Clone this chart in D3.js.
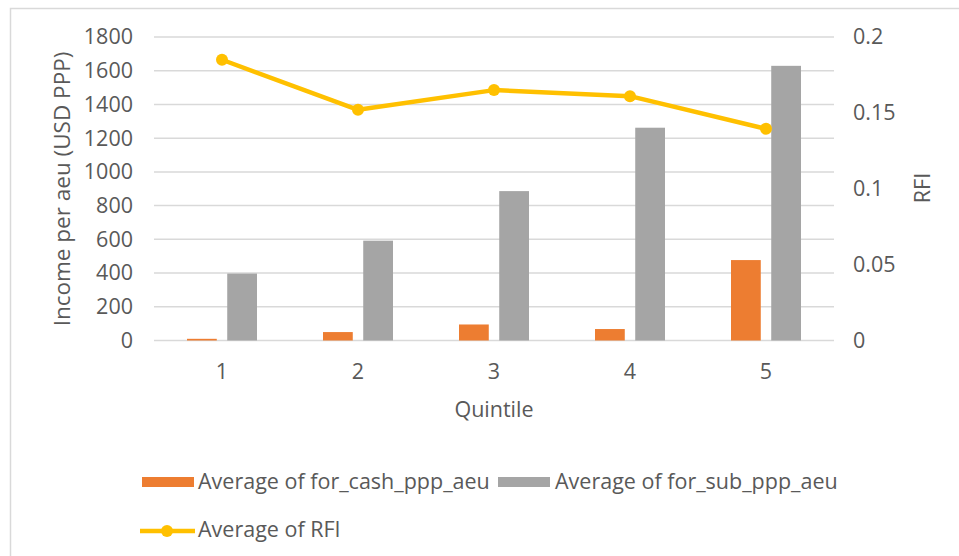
<!DOCTYPE html>
<html>
<head>
<meta charset="utf-8">
<script src="https://cdn.jsdelivr.net/npm/d3@7"></script>
<style>
  html, body { margin: 0; padding: 0; background: #fff; }
  svg { display: block; }
  text { font-family: "Open Sans", Lato, sans-serif; fill: #595959; }
</style>
</head>
<body>
<svg id="chart" width="959" height="556"></svg>
<script>
// Quintile categories and series
const quintiles = ["1", "2", "3", "4", "5"];
const cashValues = [10, 50, 95, 68, 477];      // Average of for_cash_ppp_aeu
const subValues = [397, 592, 886, 1262, 1629]; // Average of for_sub_ppp_aeu
const rfiValues = [0.185, 0.152, 0.165, 0.161, 0.1395]; // Average of RFI

const leftTicks = [0, 200, 400, 600, 800, 1000, 1200, 1400, 1600, 1800];
const rightTicks = [0, 0.05, 0.1, 0.15, 0.2];

const seriesNames = ["Average of for_cash_ppp_aeu", "Average of for_sub_ppp_aeu"];
const seriesColors = ["#ED7D31", "#A5A5A5"];
const lineColor = "#FFC000";

const svg = d3.select("#chart");
const fontSize = "21.5px";

// outer frame
svg.append("rect")
  .attr("x", 10.5).attr("y", 8.5)
  .attr("width", 980).attr("height", 600)
  .attr("fill", "none").attr("stroke", "#d9d9d9").attr("stroke-width", 1.5);

const plot = { left: 154, right: 834, top: 37, bottom: 340.5 };

const x = d3.scaleBand().domain(quintiles).range([plot.left, plot.right]).padding(0);
const yLeft = d3.scaleLinear().domain([0, 1800]).range([plot.bottom, plot.top]);
const yRight = d3.scaleLinear().domain([0, 0.2]).range([plot.bottom, plot.top]);
const xInner = d3.scaleBand().domain([0, 1]).range([-35, 35]).paddingInner(0.26);

// gridlines
svg.append("g").selectAll("line")
  .data(leftTicks)
  .join("line")
  .attr("x1", plot.left).attr("x2", plot.right)
  .attr("y1", d => yLeft(d)).attr("y2", d => yLeft(d))
  .attr("stroke", "#d9d9d9").attr("stroke-width", 1.5);

// left axis labels
const leftAxis = d3.axisLeft(yLeft).tickValues(leftTicks).tickSize(0).tickPadding(21).tickFormat(d3.format("d"));
const gL = svg.append("g").attr("transform", `translate(${plot.left},0)`).call(leftAxis);
gL.select(".domain").remove();
gL.selectAll("text").style("font-size", fontSize).attr("fill", "#595959");

// right axis labels
const rightAxis = d3.axisRight(yRight).tickValues(rightTicks).tickSize(0).tickPadding(19)
  .tickFormat(d => d === 0 ? "0" : String(+d.toFixed(2)));
const gR = svg.append("g").attr("transform", `translate(${plot.right},0)`).call(rightAxis);
gR.select(".domain").remove();
gR.selectAll("text").style("font-size", fontSize).attr("fill", "#595959");

// x axis labels
const bottomAxis = d3.axisBottom(x).tickSize(0).tickPadding(23);
const gB = svg.append("g").attr("transform", `translate(0,${plot.bottom})`).call(bottomAxis);
gB.select(".domain").remove();
gB.selectAll("text").style("font-size", fontSize).attr("fill", "#595959");

svg.selectAll("g").attr("font-family", null);

// bars
const barData = quintiles.flatMap((q, i) => [
  { q, s: 0, v: cashValues[i] },
  { q, s: 1, v: subValues[i] }
]);
svg.append("g").selectAll("rect")
  .data(barData)
  .join("rect")
  .attr("x", d => x(d.q) + x.bandwidth() / 2 + xInner(d.s))
  .attr("width", xInner.bandwidth())
  .attr("y", d => yLeft(d.v))
  .attr("height", d => yLeft(0) - yLeft(d.v))
  .attr("fill", d => seriesColors[d.s]);

// RFI line
const linePts = quintiles.map((q, i) => [x(q) + x.bandwidth() / 2, yRight(rfiValues[i])]);
svg.append("path")
  .attr("d", d3.line()(linePts))
  .attr("fill", "none").attr("stroke", lineColor).attr("stroke-width", 4.5)
  .attr("stroke-linejoin", "round");
svg.append("g").selectAll("circle")
  .data(linePts)
  .join("circle")
  .attr("cx", d => d[0]).attr("cy", d => d[1]).attr("r", 6)
  .attr("fill", lineColor);

// axis titles
svg.append("text")
  .attr("transform", "translate(70,189) rotate(-90)")
  .attr("text-anchor", "middle")
  .style("font-size", "22.5px")
  .text("Income per aeu (USD PPP)");
svg.append("text")
  .attr("transform", "translate(930,188) rotate(-90)")
  .attr("text-anchor", "middle")
  .style("font-size", fontSize)
  .text("RFI");
svg.append("text")
  .attr("x", 494).attr("y", 417)
  .attr("text-anchor", "middle")
  .style("font-size", fontSize)
  .text("Quintile");

// legend
const legend = svg.append("g");
const barLegend = [
  { name: seriesNames[0], color: seriesColors[0], x: 142, tx: 198 },
  { name: seriesNames[1], color: seriesColors[1], x: 498, tx: 555 }
];
legend.selectAll("rect")
  .data(barLegend)
  .join("rect")
  .attr("x", d => d.x).attr("y", 477).attr("width", 52).attr("height", 10)
  .attr("fill", d => d.color);
legend.selectAll("text.bar")
  .data(barLegend)
  .join("text")
  .attr("class", "bar")
  .attr("x", d => d.tx).attr("y", 489)
  .style("font-size", fontSize)
  .text(d => d.name);
legend.append("line")
  .attr("x1", 140).attr("x2", 195).attr("y1", 531).attr("y2", 531)
  .attr("stroke", lineColor).attr("stroke-width", 4.5);
legend.append("circle")
  .attr("cx", 167).attr("cy", 531).attr("r", 6).attr("fill", lineColor);
legend.append("text")
  .attr("x", 198).attr("y", 537)
  .style("font-size", fontSize)
  .text("Average of RFI");
</script>
</body>
</html>
